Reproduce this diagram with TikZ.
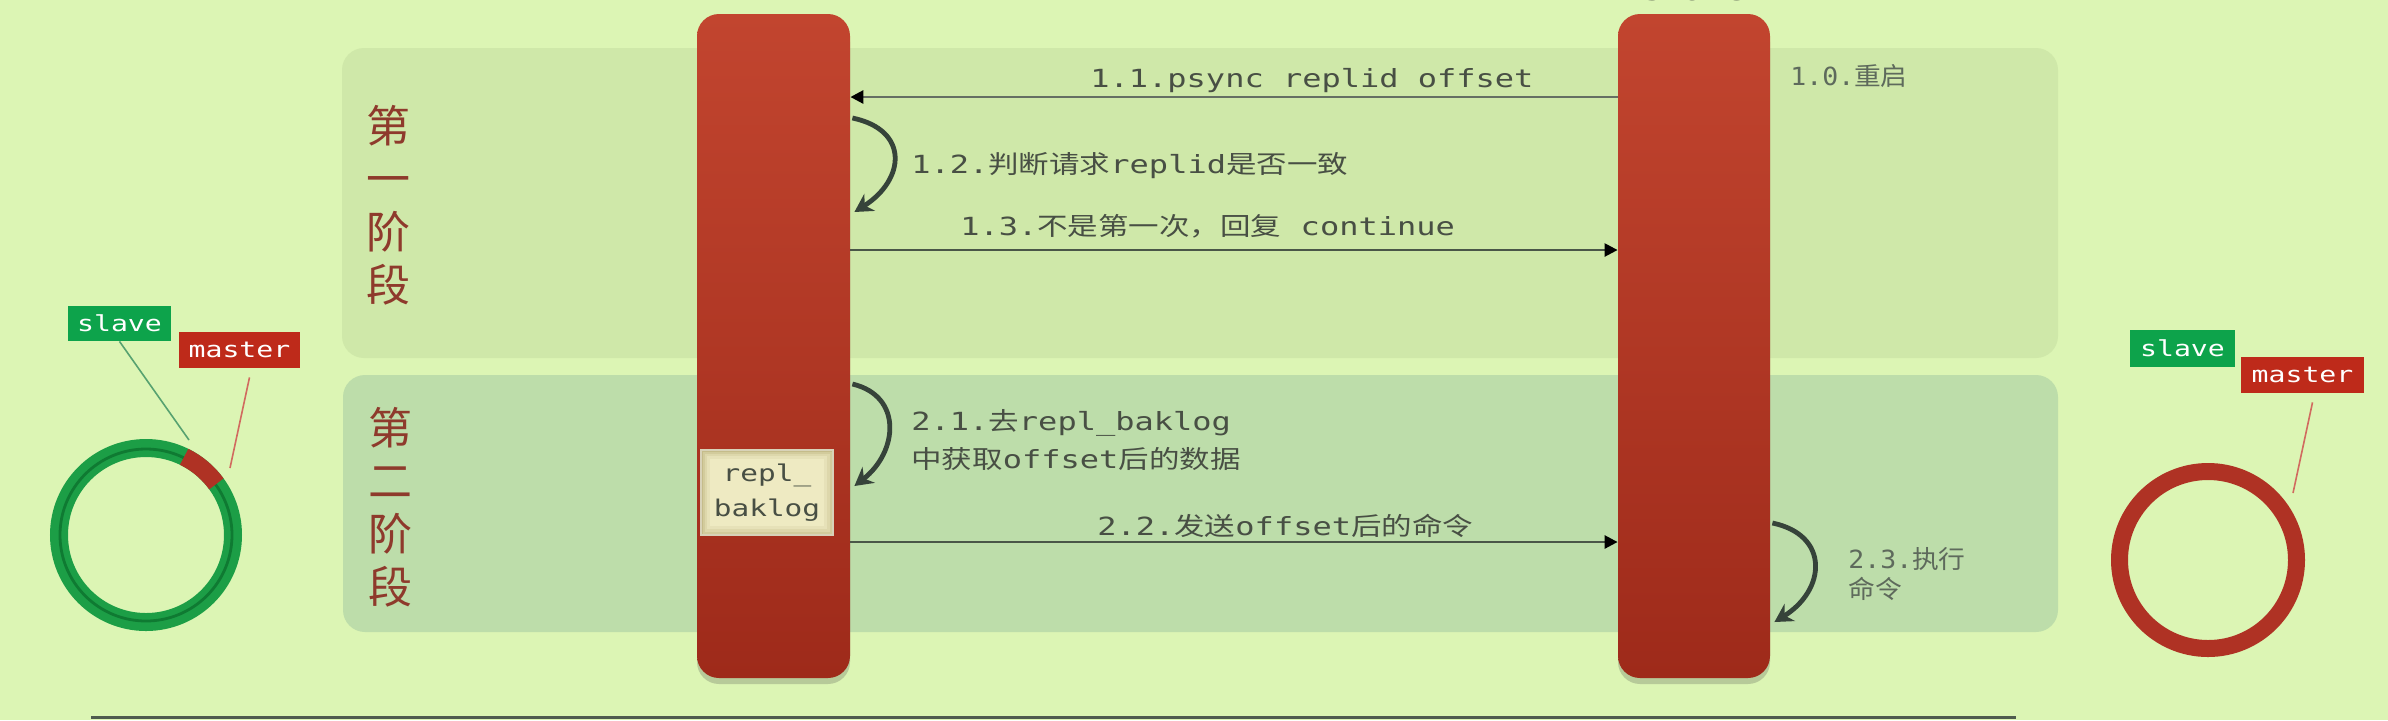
\documentclass[tikz,border=0pt]{standalone}
\usepackage{fontspec}
\usetikzlibrary{arrows.meta,shadows,calc}
\newfontfamily\smono{DejaVu Sans Mono}[FakeStretch=1.28]
\newfontfamily\scjk{Noto Sans CJK SC}[FakeStretch=1.22]
\newfontfamily\nmono{DejaVu Sans Mono}[FakeStretch=1.06]
\newfontfamily\ncjk{Noto Sans CJK SC}[FakeStretch=1.07]
\newfontfamily\bigcjk{Noto Sans CJK SC}
\newcommand\zh[1]{{\scjk #1}}
\newcommand\zn[1]{{\ncjk #1}}
\definecolor{bg}{HTML}{DCF5B4}
\definecolor{pone}{HTML}{CFE8A9}
\definecolor{ptwo}{HTML}{BDDDAA}
\definecolor{bartop}{HTML}{C2452F}
\definecolor{barbot}{HTML}{9E2A1A}
\definecolor{txt}{HTML}{484F44}
\definecolor{txtl}{HTML}{5E6A5C}
\definecolor{arrc}{HTML}{4A5648}
\definecolor{loopc}{HTML}{36433A}
\definecolor{phasec}{HTML}{8E3A2C}
\definecolor{gring}{HTML}{1C9E46}
\definecolor{gdark}{HTML}{0F7A32}
\definecolor{rring}{HTML}{AF3224}
\definecolor{tagg}{HTML}{0DA34B}
\definecolor{tagr}{HTML}{BE2A1A}
\definecolor{logfill}{HTML}{EEEAC2}
\definecolor{logedge}{HTML}{A89B62}
\definecolor{basec}{HTML}{4F5C4E}
\begin{document}
\begin{tikzpicture}[x=0.5pt,y=-0.5pt,
  bar/.style={rectangle, rounded corners=11pt, top color=bartop, bottom color=barbot,
    draw=none, inner sep=0pt,
    drop shadow={shadow xshift=0pt, shadow yshift=-3pt, opacity=0.25, fill=black!70}},
  lbl/.style={font=\smono\fontsize{12.5}{15}\selectfont, text=txt, inner sep=0pt},
  nlbl/.style={font=\nmono\fontsize{12.5}{15}\selectfont, text=txtl, inner sep=0pt},
  msg/.style={draw=arrc, line width=1.4pt, -{Triangle[length=6.5pt,width=6.5pt,color=black]}},
  selfloop/.style={draw=loopc, line width=2.4pt, -{Stealth[length=9pt,width=10pt]}},
  phasel/.style={font=\bigcjk\fontsize{22}{26.5}\selectfont, text=phasec, align=center, inner sep=0pt},
  tag/.style={font=\smono\fontsize{11}{13}\selectfont, text=white, inner sep=0pt},
  logbox/.style={fill=logfill, draw=logedge!45, line width=1pt, minimum width=66pt,
    minimum height=42.5pt, align=center, font=\smono\fontsize{11.5}{17.5}\selectfont,
    text=txt, inner sep=0pt,
    path picture={
      \foreach \w/\o in {9/0.10,6/0.14,3.5/0.2,1.5/0.3}
        \draw[logedge, line width=\w pt, opacity=\o]
          (path picture bounding box.south west) rectangle (path picture bounding box.north east);
    }}]
\fill[bg] (0,0) rectangle (2388,720);
\useasboundingbox (0,0) rectangle (2388,720);
% phase panels
\fill[pone, rounded corners=11pt] (342,48) rectangle (2058,358);
\fill[ptwo, rounded corners=11pt] (343,375) rectangle (2058,632);
\node[phasel] (p1) at (388,205) {第\\一\\阶\\段};
\node[phasel] (p2) at (390,507) {第\\二\\阶\\段};
% lifelines
\node[bar, minimum width=76.5pt, minimum height=332pt] (M) at (773.5,346) {};
\node[bar, minimum width=76pt, minimum height=332pt] (S) at (1694,346) {};
\node[font=\smono\fontsize{13.5}{15}\selectfont, text=txt, inner sep=0pt, anchor=base] (st) at (1694,0) {slave};
% level coordinates
\coordinate (y11) at (0,97);
\coordinate (y13) at (0,250);
\coordinate (y22) at (0,542);
\coordinate (a12) at (0,118);
\coordinate (b12) at (0,212);
\coordinate (a21) at (0,384);
\coordinate (b21) at (0,486);
\coordinate (a23) at (0,523);
\coordinate (b23) at (0,622);
% messages
\draw[msg, draw=arrc!85] (S.west |- y11) -- (M.east |- y11);
\draw[msg, line width=1.2pt] (M.east |- y13) -- (S.west |- y13);
\draw[msg, line width=1.3pt] (M.east |- y22) -- (S.west |- y22);
% self loops
\draw[selfloop] ($(M.east |- a12)+(2,0)$) .. controls (910,130) and (905,180) .. ($(M.east |- b12)+(4,0)$);
\draw[selfloop] ($(M.east |- a21)+(2,0)$) .. controls (903,396) and (898,452) .. ($(M.east |- b21)+(4,0)$);
\draw[selfloop] ($(S.east |- a23)+(2,0)$) .. controls (1830,535) and (1826,590) .. ($(S.east |- b23)+(4,0)$);
% labels
\node[nlbl, anchor=base west] (t10) at (1790,85) {1.0.\zn{重启}};
\node[lbl, anchor=base west] (t11) at (1090,87) {1.1.psync replid offset};
\node[lbl, anchor=base west] (t12) at (911,173) {1.2.\zh{判断请求}replid\zh{是否一致}};
\node[lbl, anchor=base west] (t13) at (960,235) {1.3.\zh{不是第一次，回复} continue};
\node[lbl, anchor=base west] (t21a) at (911,430) {2.1.\zh{去}repl\_baklog};
\node[lbl, anchor=base west] (t21b) at (911,468) {\zh{中获取}offset\zh{后的数据}};
\node[lbl, anchor=base west] (t22) at (1097,535) {2.2.\zh{发送}offset\zh{后的命令}};
\node[nlbl, anchor=base west] (t23a) at (1848,568) {2.3.\zn{执行}};
\node[nlbl, anchor=base west] (t23b) at (1848,598) {\zn{命令}};
% backlog box
\node[logbox] (B) at (767,492.5) {repl\_\\baklog};
% left ring
\draw[gring, line width=9pt] (146,535) circle[radius=87];
\draw[gdark, line width=1.4pt] (146,535) circle[radius=86];
\draw[rring, line width=9pt] (146,535) ++(-64:87) arc[start angle=-64, end angle=-36, radius=87];
% right ring
\draw[rring, line width=8.5pt] (2208,560) circle[radius=88.5];
% tags
\node[tag, fill=tagg, minimum width=51.5pt, minimum height=17.5pt] (ls) at (119.5,323.5) {slave};
\node[tag, fill=tagr, minimum width=60.5pt, minimum height=18pt] (lm) at (239.5,350) {master};
\node[tag, fill=tagg, minimum width=52.5pt, minimum height=18.5pt] (rs) at (2182.5,348.5) {slave};
\node[tag, fill=tagr, minimum width=61.5pt, minimum height=18pt] (rm) at (2302.5,375) {master};
\coordinate (lse) at (189,440);
\coordinate (lme) at (230,468);
\coordinate (rme) at (2293,493);
\draw[draw=gdark!70, line width=0.8pt] (ls.south) -- (lse);
\draw[draw=tagr!70, line width=0.8pt] ($(lm.south)+(10,9)$) -- (lme);
\draw[draw=tagr!70, line width=0.8pt] ($(rm.south)+(10,9)$) -- (rme);
% base line
\draw[basec, line width=1.5pt] (91,717) -- (2016,717);
\end{tikzpicture}
\end{document}
